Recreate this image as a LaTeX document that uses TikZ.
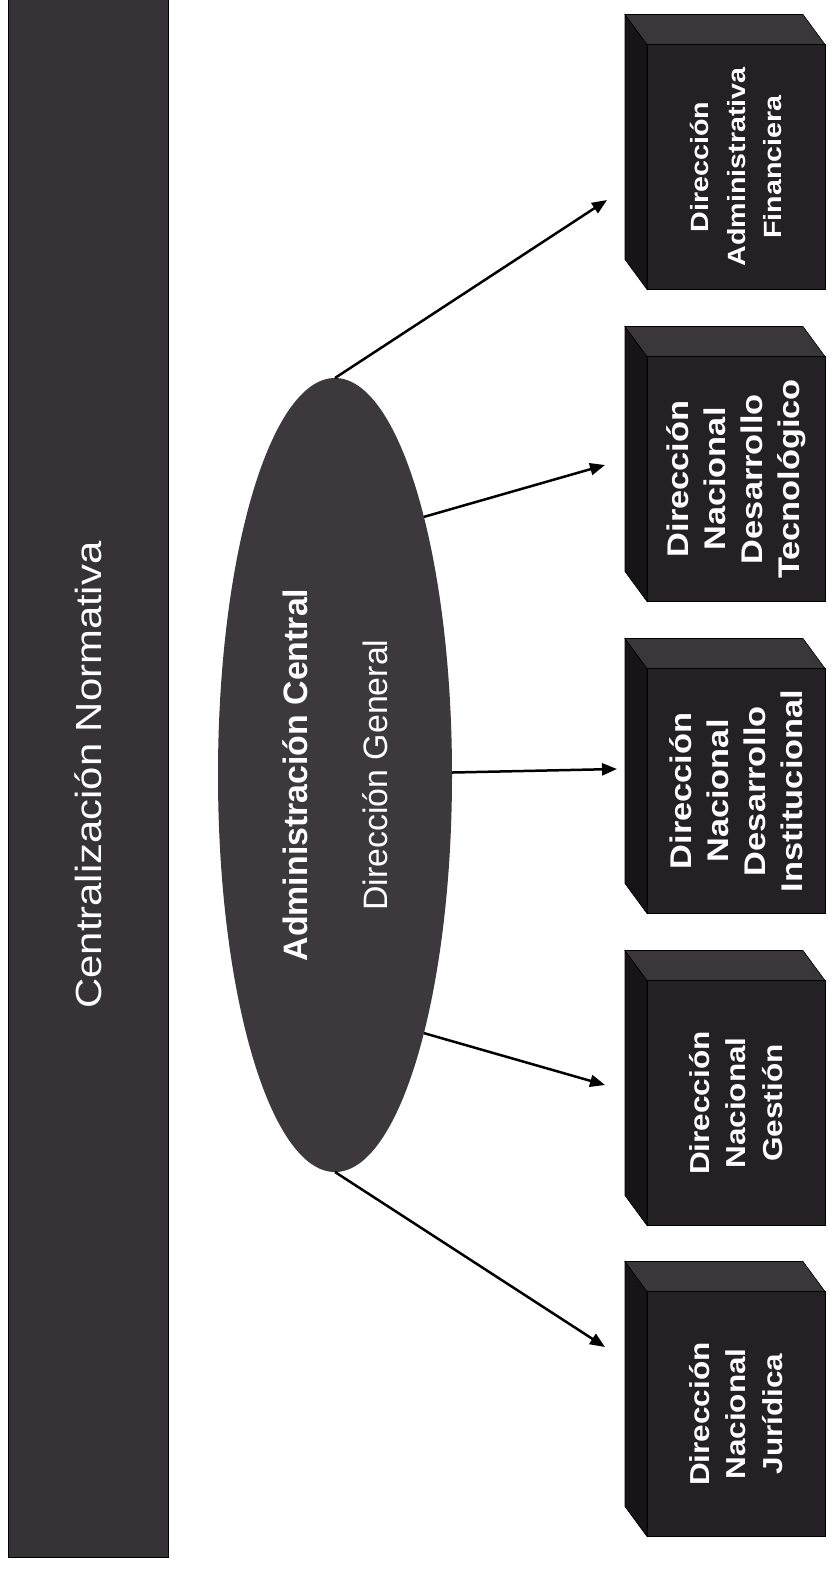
\documentclass[tikz,border=0pt]{standalone}
\usepackage{fontspec}
\setmainfont{Liberation Sans}
\newfontfamily\widefont{Liberation Sans}[FakeStretch=1.15]
\usepackage{xcolor}
\usepackage{tikz}
\usetikzlibrary{shapes.geometric, arrows.meta}
\definecolor{bannergray}{RGB}{54,50,54}
\definecolor{ellgray}{RGB}{60,56,60}
\definecolor{boxfront}{RGB}{36,33,36}
\definecolor{boxtop}{RGB}{58,55,58}
\definecolor{boxleft}{RGB}{22,20,22}
\tikzstyle{banner} = [rectangle, rotate=90, minimum width=1565bp, minimum height=160bp, inner sep=0, outer sep=0, fill=bannergray, draw=black, line width=0.6bp, text=white, font=\widefont\fontsize{36.5}{44}\selectfont]
\tikzstyle{central} = [ellipse, rotate=90, minimum width=794bp, minimum height=234bp, inner sep=0, outer sep=0, fill=ellgray, text=white, align=center, font=\fontsize{34}{40}\selectfont]
\tikzstyle{direccion} = [rectangle, rotate=90, minimum width=245bp, minimum height=178bp, inner sep=0, outer sep=0, fill=boxfront, draw=black, line width=0.6bp, text=white, align=center, font=\widefont\bfseries\fontsize{27.5}{37}\selectfont]
\tikzstyle{arrow} = [line width=2.5bp, -{Triangle[length=15bp,width=12bp]}]
% side and top faces of a box
\newcommand{\cubesides}[1]{%
  \filldraw[fill=boxleft, draw=black, line width=0.6bp] ([shift={(-89,-122.5)}]#1.center) -- ([shift={(-89,122.5)}]#1.center) -- ([shift={(-111,92.5)}]#1.center) -- ([shift={(-111,-152.5)}]#1.center) -- cycle;
  \filldraw[fill=boxtop, draw=black, line width=0.6bp] ([shift={(-89,-122.5)}]#1.center) -- ([shift={(89,-122.5)}]#1.center) -- ([shift={(67,-152.5)}]#1.center) -- ([shift={(-111,-152.5)}]#1.center) -- cycle;
}

\begin{document}
\begin{tikzpicture}[x=1bp, y=-1bp]
		\useasboundingbox (0,0) rectangle (827,1571);
		
		\node (normativa) [banner] at (88,775) {Centralización Normativa};
		\node (dirgen) [central] at (335,775) {\textbf{Administración Central}\\[40bp]Dirección General};
		
		\node (financiera) [direccion, font=\widefont\bfseries\fontsize{25}{37}\selectfont] at (736,167) {Dirección\\Administrativa\\Financiera};
		\node (tecnologico) [direccion, font=\widefont\bfseries\fontsize{30}{37}\selectfont] at (736,479) {Dirección\\Nacional\\Desarrollo\\Tecnológico};
		\node (institucional) [direccion, font=\widefont\bfseries\fontsize{30}{37}\selectfont] at (736,791) {Dirección\\Nacional\\Desarrollo\\Institucional};
		\node (gestion) [direccion] at (736,1103) {Dirección\\Nacional\\Gestión};
		\node (juridica) [direccion] at (736,1414) {Dirección\\Nacional\\Jurídica};
		\cubesides{financiera}
		\cubesides{tecnologico}
		\cubesides{institucional}
		\cubesides{gestion}
		\cubesides{juridica}
		
		\coordinate (toFin) at (607,200);
		\coordinate (toTec) at (605,465);
		\coordinate (toInst) at (617,769);
		\coordinate (toGes) at (605,1085);
		\coordinate (toJur) at (605,1347);
		
		\draw [arrow] (dirgen.east) -- (toFin);
		\draw [arrow] (dirgen.-19.7) -- (toTec);
		\draw [arrow] (dirgen) -- (toInst);
		\draw [arrow] (dirgen.199.8) -- (toGes);
		\draw [arrow] (dirgen.west) -- (toJur);
	\end{tikzpicture}
\end{document}
